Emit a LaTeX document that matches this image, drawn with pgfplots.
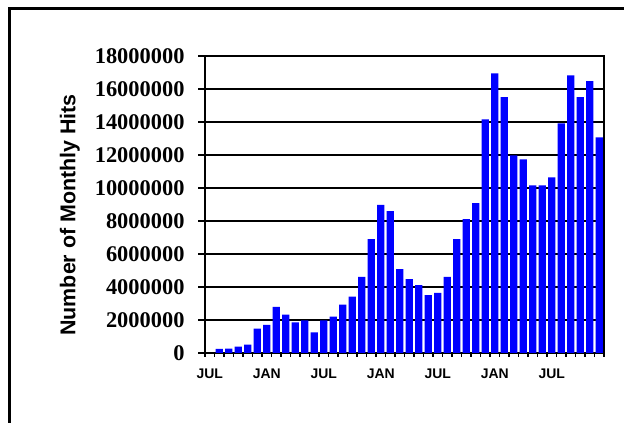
\documentclass[border=0pt]{standalone}
\usepackage{pgfplots}
\pgfplotsset{compat=1.18}
\usepackage{fontspec}
\setmainfont{Liberation Serif}
\newfontfamily\arial{Liberation Sans}
\definecolor{barblue}{RGB}{0,0,255}

\begin{document}
\begin{tikzpicture}
\useasboundingbox (0,0) rectangle (624bp,423bp);
% outer frame (cut off on the right and at the bottom)
\draw[line width=3.5bp] (9.5bp,0) -- (9.5bp,414.3bp) -- (624bp,414.3bp);

\begin{axis}[
    at={(205bp,70bp)}, anchor=south west,
    scale only axis,
    width=399bp, height=297bp,
    xmin=-0.5, xmax=41.5,
    ymin=0, ymax=18000000,
    ybar, bar width=0.74,
    axis line style={line width=1.6bp},
    xtick pos=bottom, ytick pos=left,
    xtick={0,6,...,36},
    xticklabels={JUL,JAN,JUL,JAN,JUL,JAN,JUL},
    major x tick style={draw=none},
    minor xtick={-0.5,0.5,...,41.5},
    minor tick length=4bp,
    minor x tick style={black, line width=1.2bp},
    xticklabel style={font=\arial\bfseries\fontsize{14}{14}\selectfont, yshift=-5bp},
    ytick={0,2000000,...,18000000},
    scaled y ticks=false,
    yticklabel style={font=\bfseries\fontsize{22.5}{22.5}\selectfont, xshift=-10bp},
    /pgf/number format/fixed,
    /pgf/number format/1000 sep={},
    /pgf/number format/assume math mode=true,
    major tick length=7bp,
    tick align=outside,
    y tick style={black, line width=1.2bp},
    ymajorgrids,
    major grid style={black, line width=1.3bp},
    ylabel={\arial\bfseries\fontsize{21.5}{21.5}\selectfont Number of Monthly Hits},
    every axis y label/.style={at={(axis description cs:-0.339,0.465)}, rotate=90, anchor=center},
]
\addplot[fill=barblue, draw=none] coordinates {
    (1,250000) (2,260000) (3,380000) (4,500000) (5,1470000) (6,1710000)
    (7,2800000) (8,2320000) (9,1850000) (10,1980000) (11,1250000) (12,1980000)
    (13,2200000) (14,2930000) (15,3410000) (16,4620000) (17,6900000) (18,8970000)
    (19,8600000) (20,5090000) (21,4480000) (22,4120000) (23,3510000) (24,3640000)
    (25,4620000) (26,6900000) (27,8120000) (28,9090000) (29,14160000) (30,16950000)
    (31,15500000) (32,11980000) (33,11740000) (34,10160000) (35,10160000) (36,10650000)
    (37,13920000) (38,16830000) (39,15500000) (40,16470000) (41,13070000)
};
\end{axis}
\end{tikzpicture}
\end{document}
